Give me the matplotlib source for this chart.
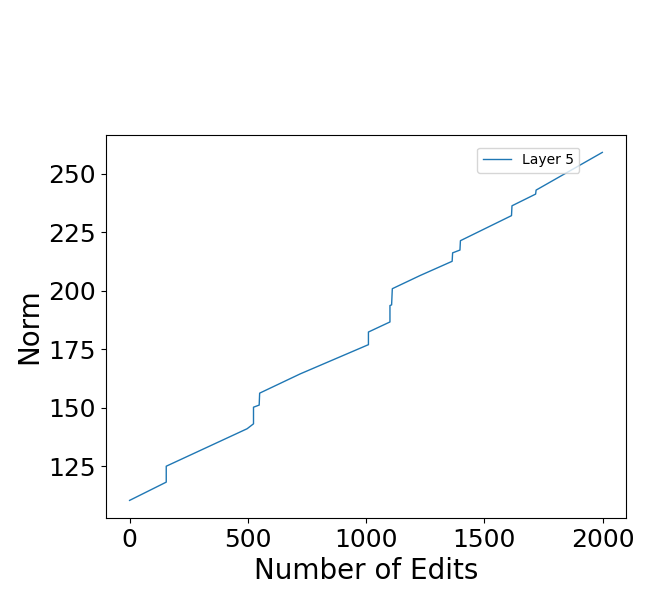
import matplotlib
matplotlib.use("Agg")
import matplotlib.pyplot as plt

# ---------- Data ----------
edits = [0, 155, 155, 497, 524, 524, 548, 550, 721, 1010, 1010, 1101, 1101, 1108, 1111,
         1228, 1364, 1366, 1397, 1399, 1615, 1617, 1717, 1719, 1999]
norm = [110.5, 118.3, 125.1, 141.1, 143.2, 150.3, 151.2, 156.3, 164.5, 177.0, 182.4,
        186.7, 193.7, 194.0, 200.9, 206.5, 212.6, 216.2, 217.4, 221.4, 232.1, 236.3,
        241.3, 243.0, 259.1]

fig = plt.figure(figsize=(6.5, 6), dpi=100)
ax = fig.add_axes([0.163, 0.137, 0.8, 0.638])
ax.plot(edits, norm, color="#1f77b4", linewidth=1, label="Layer 5")
ax.set_xlabel("Number of Edits", fontsize=20)
ax.set_ylabel("Norm", fontsize=20)
ax.tick_params(labelsize=18)
ax.set_yticks([125, 150, 175, 200, 225, 250])
ax.legend(loc="upper right", bbox_to_anchor=(0.924, 0.985), fontsize=10)

fig.savefig("out.png", dpi=100)
